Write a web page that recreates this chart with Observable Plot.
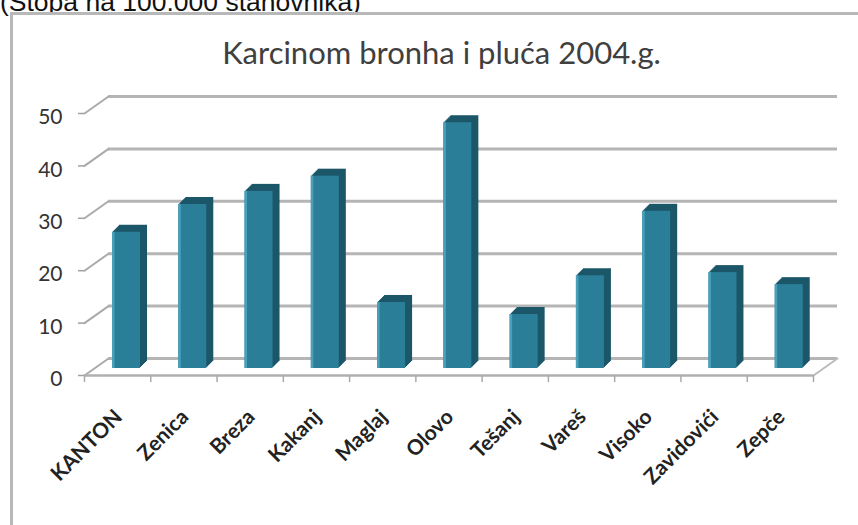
<!DOCTYPE html>
<html>
<head>
<meta charset="utf-8">
<script src="https://cdn.jsdelivr.net/npm/d3@7"></script>
<script src="https://cdn.jsdelivr.net/npm/@observablehq/plot@0.6"></script>
<style>
  html, body { margin: 0; padding: 0; background: #fff; }
  #wrap { position: relative; width: 858px; height: 525px; overflow: hidden; background: #fff; }
  #top { position: absolute; left: 0; top: -11px; font-family: "Liberation Sans", Arial, sans-serif; font-size: 26.5px; line-height: 26px; color: #111; white-space: nowrap; }
  #box { position: absolute; left: 10px; top: 12px; width: 900px; height: 600px; border: 3px solid #b8b8b8; box-sizing: border-box; background: #fff; }
  #title { position: absolute; left: 0; width: 883px; top: 34px; text-align: center; font-family: Lato, "Open Sans", sans-serif; font-size: 31px; line-height: 1.2; color: #404040; white-space: nowrap; }
  #chart { position: absolute; left: 0; top: 80px; }
</style>
</head>
<body>
<div id="wrap">
  <div id="top">(Stopa na 100.000 stanovnika)</div>
  <div id="box"></div>
  <div id="title">Karcinom bronha i pluća 2004.g.</div>
  <div id="chart"></div>
</div>
<script>
const categories = ["KANTON", "Zenica", "Breza", "Kakanj", "Maglaj", "Olovo", "Tešanj", "Vareš", "Visoko", "Zavidovići", "Zepče"];
const values = [26, 31.3, 33.8, 36.7, 12.6, 46.9, 10.3, 17.7, 30, 18.3, 16];
const yTicks = [0, 10, 20, 30, 40, 50];

const data = categories.map((c, i) => ({c, v: values[i]}));

const W = 858, H = 445, ML = 84, MR = 45, MT = 33, MB = 150;
const band = (W - ML - MR) / categories.length;
const half = band / 2;
const faceL = 28, faceW = 28;
const faceR = band - faceL - faceW;
const depth = 7;      // bar extrusion in px
const lift = 7;       // bar sits behind the front plane
const wallDx = 24, wallDy = 17;

const front = "#2b7e98";
const dark = "#1c5669";
const hi = "#4aa0bb";
const grid = "#b5b5b5";

const line = {draw(context, l) { context.moveTo(0, 0); context.lineTo(0, -l); }};

const extrude = [];
for (let k = 1; k <= depth; k++) {
  extrude.push(Plot.barY(data, {x: "c", y: "v", insetLeft: faceL, insetRight: faceR, dx: k, dy: -lift - k, fill: dark}));
}

const chart = Plot.plot({
  width: W, height: H,
  marginLeft: ML, marginRight: MR, marginTop: MT, marginBottom: MB,
  style: {background: "transparent", overflow: "visible"},
  x: {type: "band", domain: categories, padding: 0, round: false, axis: null},
  y: {domain: [0, 50], nice: false},
  marks: [
    // back wall gridlines
    Plot.ruleY(yTicks, {y: d => d, dx: wallDx, dy: -wallDy, stroke: grid, strokeWidth: 3}),
    // side wall diagonals
    Plot.vector(yTicks, {x: () => categories[0], y: d => d, dx: -half, anchor: "start", shape: line,
      rotate: Math.atan2(wallDx, wallDy) * 180 / Math.PI, length: Math.hypot(wallDx, wallDy), stroke: "#aaaaaa", strokeWidth: 2}),
    // floor right edge
    Plot.vector([0], {x: () => categories[categories.length - 1], y: d => d, dx: half, anchor: "start", shape: line,
      rotate: Math.atan2(wallDx, wallDy) * 180 / Math.PI, length: Math.hypot(wallDx, wallDy), stroke: "#bbbbbb", strokeWidth: 2}),
    // floor front edge
    Plot.ruleY([0], {stroke: "#b0b0b0", strokeWidth: 2.5}),
    // x ticks at category boundaries
    Plot.vector(categories, {x: d => d, y: () => 0, dx: -half, anchor: "start", shape: line, rotate: 180, length: 6, stroke: "#aaaaaa", strokeWidth: 1.5}),
    Plot.vector([categories[categories.length - 1]], {x: d => d, y: () => 0, dx: half, anchor: "start", shape: line, rotate: 180, length: 6, stroke: "#aaaaaa", strokeWidth: 1.5}),
    // y axis
    Plot.axisY({ticks: yTicks, tickSize: 6, tickFormat: () => "", line: true, stroke: "#a0a0a0", strokeWidth: 1.5, label: null}),
    Plot.axisY({ticks: yTicks, tickSize: 0, tickPadding: 22, dy: 4, fontSize: 21, fill: "#333", fontFamily: "Lato, 'Open Sans', sans-serif", label: null}),
    // bars
    ...extrude,
    Plot.barY(data, {x: "c", y: "v", insetLeft: faceL, insetRight: faceR, dy: -lift, fill: front}),
    Plot.barY(data, {x: "c", y: "v", insetLeft: faceL, insetRight: band - faceL - 2.5, dy: -lift, fill: hi}),
    // category labels
    Plot.text(categories, {x: d => d, y: () => 0, rotate: -45, textAnchor: "end", lineAnchor: "middle", dx: 1, dy: 38,
      fontSize: 21, fontWeight: 700, fill: "#222", fontFamily: "Lato, 'Open Sans', sans-serif"})
  ]
});
document.getElementById("chart").append(chart);
</script>
</body>
</html>
